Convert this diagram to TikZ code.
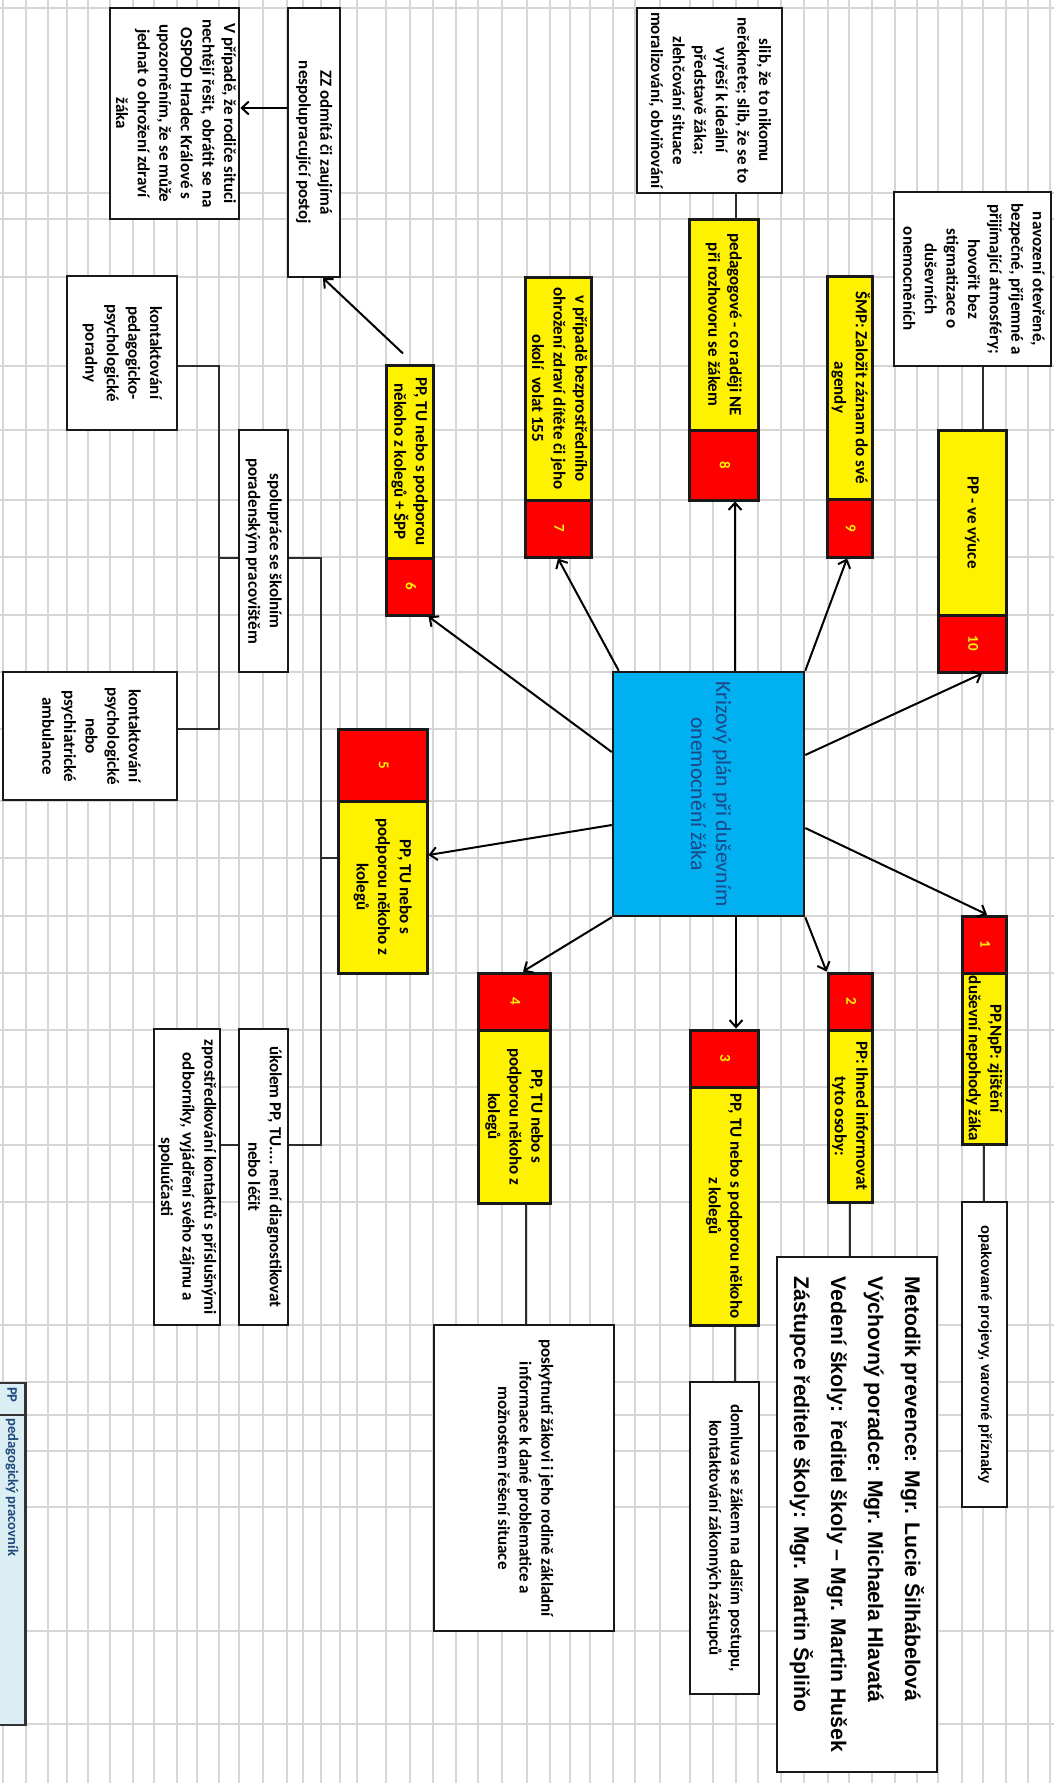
\documentclass[tikz,border=0pt]{standalone}
\usepackage{fontspec}
\setmainfont{Carlito}
\newfontfamily\arialf{Liberation Sans}
\usepackage{graphicx}
\usetikzlibrary{arrows.meta}
\definecolor{gridc}{RGB}{214,214,214}
\definecolor{cyanbox}{RGB}{0,176,240}
\definecolor{ctext}{RGB}{30,70,135}
\definecolor{legfill}{RGB}{218,238,243}
\definecolor{legtext}{RGB}{31,73,125}
\definecolor{lnc}{RGB}{45,45,45}
\newcommand{\vt}[1]{\rotatebox{-90}{\begin{tabular}{@{}c@{}}#1\end{tabular}}}
\newcommand{\vtl}[1]{\rotatebox{-90}{\begin{tabular}{@{}l@{}}#1\end{tabular}}}
\begin{document}
\begin{tikzpicture}[x=1pt,y=-1pt,
  mainfont/.style={font=\fontsize{17}{21.6}\selectfont\bfseries},
  wbox/.style={draw=black!90,line width=2pt,fill=white,inner sep=0pt,mainfont},
  ybox/.style={draw=black!90,line width=3pt,fill=yellow,inner sep=0pt,mainfont},
  rbox/.style={draw=black!90,line width=3pt,fill=red,text=yellow,inner sep=0pt,font=\fontsize{15}{18}\selectfont\bfseries},
  legbox/.style={draw=black!80,line width=2.5pt,fill=legfill,inner sep=0pt},
  legtxt/.style={text=legtext,inner sep=0pt,font=\fontsize{14.6}{16}\selectfont\bfseries},
  arr/.style={line width=2pt,draw=black,-{Straight Barb[length=7pt,width=13pt,line width=2pt]}},
  ln/.style={line width=1.6pt,draw=lnc},
  gridl/.style={line width=1.5pt,draw=gridc}]

\useasboundingbox (0,0) rectangle (1054,1783);
\fill[white] (0,0) rectangle (1054,1783);
\foreach \gx in {3,26,48,67,88,110,133,154,177,197,219,239,263,287,303,321,340,357,386,410,433,456,478,502,527,550,570,590,613,635,660,690,713,736,758,781,804,828,849,872,895,917,938,962,983,1006,1028,1050}
  \draw[gridl] (\gx,0) -- (\gx,1783);
\foreach \gy in {8,193,219,277,366,430,500,557,615,672,729,801,858,916,973,1030,1087,1145,1202,1325,1382,1415,1451,1507,1631,1724}
  \draw[gridl] (0,\gy) -- (1054,\gy);

% white boxes
\node[wbox,minimum width=52pt,minimum height=269pt] (zz) at (314,142.5) {\vt{ZZ odmítá či zaujímá\\nespolupracující postoj}};
\node[wbox,minimum width=129pt,minimum height=211pt] (vpr) at (174.5,113.5) {\vt{V případě, že rodiče situci\\nechtějí řešit, obrátit se na\\OSPOD Hradec Králové s\\upozorněním, že se může\\jednat o ohrožení zdraví\\žáka}};
\node[wbox,minimum width=110pt,minimum height=154pt] (ppp) at (122,353) {\vt{kontaktování\\pedagogicko-\\psychologické\\poradny}};
\node[wbox,minimum width=49pt,minimum height=242pt] (spol) at (263.5,551) {\vt{spolupráce se školním\\poradenským pracovištěm}};
\node[wbox,minimum width=174pt,minimum height=128pt] (psych) at (90,736) {\vt{kontaktování\\psychologické\\nebo\\psychiatrické\\ambulance}};
\node[wbox,minimum width=49pt,minimum height=296pt] (ukol) at (263.5,1177) {\vt{úkolem PP, TU.... není diagnostikovat\\nebo léčit}};
\node[wbox,minimum width=66pt,minimum height=296pt] (zpro) at (187,1177) {\vt{zprostředkování kontaktů s příslušnými\\odborníky, vyjádření svého zájmu a\\spoluúčasti}};
\node[wbox,minimum width=145pt,minimum height=185pt] (slib) at (709.5,100.5) {\vt{slib, že to nikomu\\neřeknete; slib, že se to\\vyřeší k ideální\\představě žáka;\\zlehčování situace\\moralizování, obviňování}};
\node[wbox,minimum width=157pt,minimum height=174pt] (navoz) at (972.5,279) {\vt{navození otevřené,\\bezpečné, příjemné a\\přijímající atmosféry;\\hovořit bez\\stigmatizace o\\duševních\\onemocněních}};
\node[wbox,minimum width=180pt,minimum height=306pt] (posk) at (524,1478) {\vt{poskytnutí žákovi i jeho rodině základní\\informace k dané problematice a\\možnostem řešení situace}};
\node[wbox,minimum width=69pt,minimum height=312pt] (doml) at (724.5,1538) {\vt{domluva se žákem na dalším postupu,\\kontaktování zákonných zástupců}};
\node[wbox,line width=2.5pt,minimum width=160pt,minimum height=515pt,font=\arialf\bfseries\fontsize{21.2}{37}\selectfont] (met) at (857,1514.5) {\vtl{Metodik prevence: Mgr. Lucie Šilhábelová\\Výchovný poradce: Mgr. Michaela Hlavatá\\Vedení školy: ředitel školy – Mgr. Martin Hušek\\Zástupce ředitele školy: Mgr. Martin Špliňo}};
\node[wbox,minimum width=45pt,minimum height=305pt,font=\arialf\bfseries\fontsize{14.6}{17}\selectfont] (opak) at (984.5,1354.5) {\vt{opakované projevy, varovné příznaky}};

% central box
\node[draw=black!90,line width=2.5pt,fill=cyanbox,minimum width=191pt,minimum height=244pt,inner sep=0pt,text=ctext,font=\fontsize{21.7}{25}\selectfont] (cen) at (708.5,794) {\vt{Krizový plán při duševním\\onemocnění žáka}};

% numbered boxes
\node[rbox,minimum width=44pt,minimum height=57pt] (r1) at (984,944.5) {\vt{1}};
\node[ybox,minimum width=44pt,minimum height=171pt] (y1) at (984,1058.5) {\vt{PP,NpP: zjištění\\duševní nepohody žáka}};
\node[rbox,minimum width=44pt,minimum height=57pt] (r2) at (850,1001.5) {\vt{2}};
\node[ybox,minimum width=44pt,minimum height=172pt] (y2) at (850,1116) {\vt{PP: Ihned informovat\\tyto osoby:}};
\node[rbox,minimum width=68pt,minimum height=57pt] (r3) at (724,1058.5) {\vt{3}};
\node[ybox,minimum width=68pt,minimum height=238pt] (y3) at (724,1206) {\vt{PP, TU nebo s podporou někoho\\z kolegů}};
\node[rbox,minimum width=72pt,minimum height=57pt] (r4) at (514,1001.5) {\vt{4}};
\node[ybox,minimum width=72pt,minimum height=173pt] (y4) at (514,1116.5) {\vt{PP, TU nebo s\\podporou někoho z\\kolegů}};
\node[rbox,minimum width=89pt,minimum height=72pt] (r5) at (382.5,765) {\vt{5}};
\node[ybox,minimum width=89pt,minimum height=172pt] (y5) at (382.5,887) {\vt{PP, TU nebo s\\podporou někoho z\\kolegů}};
\node[ybox,minimum width=47pt,minimum height=193pt] (y6) at (409.5,461.5) {\vt{PP, TU nebo s podporou\\někoho z kolegů + ŠPP}};
\node[rbox,minimum width=47pt,minimum height=57pt] (r6) at (409.5,586.5) {\vt{6}};
\node[ybox,minimum width=66pt,minimum height=223pt] (y7) at (558,388.5) {\vt{v případě bezprostředního\\ohrožení zdraví dítěte či jeho\\okolí\ \ volat 155}};
\node[rbox,minimum width=66pt,minimum height=57pt] (r7) at (558,528.5) {\vt{7}};
\node[ybox,minimum width=69pt,minimum height=211pt] (y8) at (723.5,324.5) {\vt{pedagogové - co raději NE\\při rozhovoru se žákem}};
\node[rbox,minimum width=69pt,minimum height=70pt] (r8) at (723.5,465) {\vt{8}};
\node[ybox,minimum width=45pt,minimum height=223pt] (y9) at (849.5,387.5) {\vt{ŠMP: Založit záznam do své\\agendy}};
\node[rbox,minimum width=45pt,minimum height=58pt] (r9) at (849.5,528) {\vt{9}};
\node[ybox,minimum width=68pt,minimum height=185pt] (y10) at (972,522.5) {\vt{PP - ve výuce}};
\node[rbox,minimum width=68pt,minimum height=57pt] (r10) at (972,643.5) {\vt{10}};

% legend
\node[legbox,minimum width=29pt,minimum height=32pt] (legA) at (11,1399) {};
\node[legbox,minimum width=29pt,minimum height=310pt] (legB) at (11,1570) {};
\node[legtxt,rotate=-90,anchor=west] at (12,1387) {PP};
\node[legtxt,rotate=-90,anchor=west] at (12,1418) {pedagogický pracovník};

% arrows from the central box
\draw[arr] ([xshift=26.5pt]cen.north) -- ([xshift=11.5pt]r8.south);
\draw[arr] (cen.north east) -- ([xshift=-2.5pt]r9.south);
\draw[arr] ([yshift=39pt]cen.east) -- ([xshift=10pt]r10.south);
\draw[arr] ([yshift=-34pt]cen.east) -- ([xshift=3pt]r1.north);
\draw[arr] (cen.south east) -- (r2.north west);
\draw[arr] ([xshift=27.5pt]cen.south) -- ([xshift=12pt]r3.north);
\draw[arr] (cen.south west) -- ([xshift=9pt]r4.north);
\draw[arr] ([yshift=-31pt]cen.west) -- ([yshift=32pt]y5.east);
\draw[arr] ([yshift=42pt]cen.west) -- ([xshift=-6pt]r6.south east);
\draw[arr] ([xshift=7pt]cen.north west) -- (r7.south);
\draw[arr] ([xshift=-6.5pt,yshift=10pt]y6.north) -- ([xshift=-18pt]zz.south east);
\draw[arr] ([yshift=34.5pt]zz.west) -- ([yshift=34.5pt]zz.west -| vpr.east);

% plain connectors
\draw[ln] ([xshift=26.5pt]slib.south) -- ([xshift=26.5pt]slib.south |- y8.north);
\draw[ln] ([xshift=10.5pt]navoz.south) -- ([xshift=10.5pt]navoz.south |- y10.north);
\draw[ln] (y1.south) -- (y1.south |- opak.north);
\draw[ln] (y2.south) -- (y2.south |- met.north);
\draw[ln] ([xshift=11pt]y3.south) -- ([xshift=11pt]y3.south |- doml.north);
\draw[ln] ([xshift=12pt]y4.south) -- ([xshift=12pt]y4.south |- posk.north);
\coordinate (spA) at (219,558);
\coordinate (spB) at (321,858);
\draw[ln] ([yshift=-13pt]ppp.east) -| (spA) |- ([yshift=7pt]psych.east);
\draw[ln] (spA) -- (spA -| spol.west);
\draw[ln] (spol.east |- spA) -| (spB) |- ([yshift=32pt]ukol.east);
\draw[ln] (spB) -- (spB -| y5.west);
\draw[ln] ([yshift=32pt]ukol.west) -- ([yshift=32pt]zpro.east);
\end{tikzpicture}
\end{document}
